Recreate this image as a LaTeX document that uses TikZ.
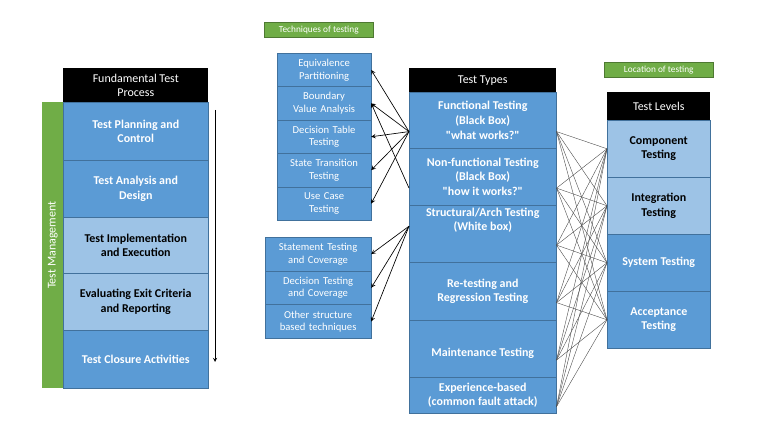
\documentclass[tikz,border=0pt]{standalone}
\usepackage{fontspec}
\setmainfont{Carlito}
\usetikzlibrary{positioning}
\definecolor{boxblue}{HTML}{5B9BD5}
\definecolor{lightblue}{HTML}{9DC3E6}
\definecolor{edgeblue}{HTML}{41719C}
\definecolor{tagreen}{HTML}{70AD47}
\tikzstyle{cell}=[fill=boxblue, draw=edgeblue, line width=0.4pt, text=white, font=\bfseries\small, align=center, inner sep=1pt, anchor=north west]
\tikzstyle{light cell}=[cell, fill=lightblue, text=black]
\tikzstyle{head}=[fill=black, text=white, font=\small, align=center, inner sep=1pt, anchor=north west]
\tikzstyle{tag}=[fill=tagreen, draw=tagreen!70!black, text=white, font=\scriptsize, inner sep=1pt, anchor=north west]
\tikzstyle{small cell}=[cell, font=\footnotesize, text width=2.9cm]
\tikzstyle{link}=[draw=black, ->, >=stealth, line width=0.5pt]
\tikzstyle{mesh}=[draw=black!70, line width=0.3pt]
\newcommand{\px}{0.02645833}
\begin{document}
\begin{tikzpicture}[x=\px cm, y=-\px cm]
	\useasboundingbox (0,0) rectangle (768,433);
	% fundamental test process
	\node [head, minimum width=145*\px cm, minimum height=34*\px cm] (fhead) at (63,68) {Fundamental Test\\Process};
	\node [cell, minimum width=145*\px cm, minimum height=58*\px cm] (f1) at (63,102) {Test Planning and\\Control};
	\node [cell, minimum width=145*\px cm, minimum height=57*\px cm] (f2) at (63,160) {Test Analysis and\\Design};
	\node [light cell, minimum width=145*\px cm, minimum height=56*\px cm] (f3) at (63,217) {Test Implementation\\and Execution};
	\node [light cell, minimum width=145*\px cm, minimum height=57*\px cm] (f4) at (63,273) {Evaluating Exit Criteria\\and Reporting};
	\node [cell, minimum width=145*\px cm, minimum height=58*\px cm] (f5) at (63,330) {Test Closure Activities};
	\node [fill=tagreen, minimum width=21*\px cm, minimum height=286*\px cm, inner sep=0pt, anchor=north west] (mgmt) at (42,102) {};
	\node [text=white, font=\small, rotate=90] at (mgmt.center) {Test Management};
	\coordinate (flowtop) at (215,110);
	\coordinate (flowend) at (215,362);
	\draw [link, line width=0.4pt] (flowtop) -- (flowend);
	% techniques
	\node [tag, minimum width=109*\px cm, minimum height=15*\px cm] (ttag) at (264,22) {Techniques of testing};
	\foreach \n/\t [count=\i from 0] in {ep/Equivalence\\Partitioning, bva/Boundary\\Value Analysis, dtt/Decision Table\\Testing, stt/State Transition\\Testing, uc/Use Case\\Testing}
		\node [small cell, text width=91*\px cm, minimum height=33.4*\px cm] (\n) at (277,53+33.4*\i) {\t};
	\foreach \n/\t [count=\i from 0] in {stc/Statement Testing\\and Coverage, dtc/Decision Testing\\and Coverage, osb/Other structure\\based techniques}
		\node [small cell, text width=103*\px cm, minimum height=33.7*\px cm] (\n) at (265,237+33.7*\i) {\t};
	% test types
	\node [head, minimum width=147*\px cm, minimum height=24*\px cm] (thead) at (409,68) {Test Types};
	\node [cell, minimum width=147*\px cm, minimum height=56*\px cm] (ty1) at (409,92) {Functional Testing\\(Black Box)\\\textquotedbl what works?\textquotedbl};
	\node [cell, minimum width=147*\px cm, minimum height=57*\px cm] (ty2) at (409,148) {Non-functional Testing\\(Black Box)\\\textquotedbl how it works?\textquotedbl};
	\node [cell, minimum width=147*\px cm, minimum height=57*\px cm] (ty3) at (409,205) {Structural/Arch Testing\\(White box)\\[1.2em]};
	\node [cell, minimum width=147*\px cm, minimum height=58*\px cm] (ty4) at (409,262) {Re-testing and\\Regression Testing};
	\node [cell, minimum width=147*\px cm, minimum height=57*\px cm] (ty5) at (409,320) {\\[0.2em]Maintenance Testing};
	\node [cell, minimum width=147*\px cm, minimum height=36*\px cm] (ty6) at (409,377) {Experience-based\\(common fault attack)};
	% test levels
	\node [tag, minimum width=109*\px cm, minimum height=15*\px cm] (ltag) at (604,62) {Location of testing};
	\node [head, minimum width=103*\px cm, minimum height=28*\px cm] (lhead) at (607,92) {Test Levels};
	\node [light cell, minimum width=103*\px cm, minimum height=57*\px cm] (lv1) at (607,120) {Component\\Testing};
	\node [light cell, minimum width=103*\px cm, minimum height=57*\px cm] (lv2) at (607,177) {Integration\\Testing};
	\node [cell, minimum width=103*\px cm, minimum height=57*\px cm] (lv3) at (607,234) {System Testing};
	\node [cell, minimum width=103*\px cm, minimum height=57*\px cm] (lv4) at (607,291) {Acceptance\\Testing};
	% links
	\foreach \a in {ty1,ty2,ty3,ty4,ty5,ty6}
		\foreach \b in {lv1,lv2,lv3,lv4}
			\draw [mesh] ([yshift=-0.3cm]\a.east) -- (\b.west);
	\foreach \b in {ep,bva,dtt,stt,uc}
		\draw [link] ([yshift=-0.3cm]ty1.west) -- (\b.east);
	\draw [link] ([yshift=-0.3cm]ty2.west) -- (bva.east);
	\foreach \b in {stc,dtc,osb}
		\draw [link] ([yshift=0.2cm]ty3.west) -- (\b.east);
\end{tikzpicture}
\end{document}
